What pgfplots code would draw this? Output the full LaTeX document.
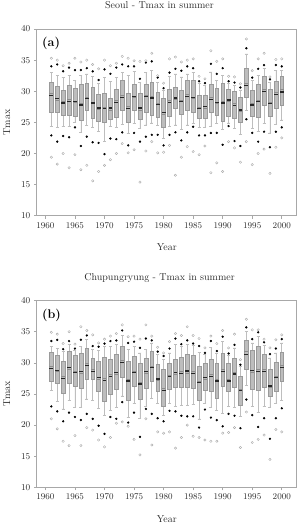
\documentclass[border=0pt]{standalone}
\usepackage{pgfplots}
\pgfplotsset{compat=1.18}
\usepackage{pgfplotstable}
\usepgfplotslibrary{statistics}

\definecolor{boxfill}{HTML}{BDBDBD}
\definecolor{boxedge}{HTML}{9A9A9A}
\definecolor{whisk}{HTML}{BEBEBE}
\definecolor{extreme}{HTML}{ABABAB}
\definecolor{framecol}{HTML}{A8A8A8}
\definecolor{labcol}{HTML}{2A2A2A}

% yr: year, lw/uw: whisker ends, q1/q3: quartiles, med: median,
% mean: mean, p5/p95: 5th and 95th percentiles, mn/mx: extremes
\pgfplotstableread{
yr   lw   q1   med  q3   uw   mean p5   p95  mn   mx
1961 24.3 26.6 29.6 31.5 33.0 29.3 22.9 34.0 19.4 35.3
1962 24.2 26.6 28.6 30.8 32.6 28.8 21.9 34.3 18.3 35.0
1963 24.4 26.1 28.4 30.1 32.2 28.1 22.8 33.2 20.0 34.1
1964 24.4 26.2 28.7 30.9 32.6 28.4 22.6 33.8 17.7 34.5
1965 25.0 26.0 28.2 30.5 31.8 28.4 24.2 33.4 19.8 35.3
1966 23.4 25.3 28.1 31.2 32.6 27.8 21.2 33.4 17.4 34.7
1967 24.5 26.9 29.1 31.3 32.8 28.8 22.7 33.7 18.1 35.0
1968 24.2 25.6 28.3 30.6 32.4 28.1 21.8 33.2 15.6 34.3
1969 23.6 25.2 27.1 29.5 31.2 27.3 21.7 31.8 17.1 33.6
1970 21.9 25.0 27.5 29.7 32.2 27.2 19.9 33.5 18.1 35.0
1971 24.3 25.5 27.0 28.8 31.6 27.3 22.4 32.8 19.0 34.1
1972 24.2 25.9 28.5 30.4 32.2 28.2 22.3 33.8 20.0 34.5
1973 24.7 27.0 29.3 31.7 33.0 29.0 23.4 34.3 21.6 35.6
1974 23.2 25.0 27.6 29.7 32.6 27.2 21.3 34.0 20.1 35.3
1975 24.8 26.9 29.0 31.2 33.2 29.2 23.3 34.0 20.6 34.9
1976 24.0 25.5 27.0 29.7 31.4 27.3 21.9 32.0 15.4 34.8
1977 24.6 26.6 29.4 31.2 33.0 29.1 22.7 34.6 20.4 34.9
1978 24.9 26.2 29.2 31.4 33.4 28.9 23.0 34.8 21.9 36.1
1979 24.5 25.8 28.1 29.8 31.4 27.9 23.0 32.2 20.1 32.5
1980 22.4 24.2 26.3 28.9 30.2 26.6 21.3 30.5 20.2 31.3
1981 24.3 26.0 28.5 30.3 32.4 28.2 23.0 33.0 21.3 35.2
1982 24.6 27.2 28.7 30.6 32.8 28.9 23.4 33.6 16.5 35.5
1983 23.9 26.3 28.6 30.1 32.3 28.3 22.1 33.3 19.4 34.7
1984 24.6 26.9 29.5 31.7 32.8 29.2 23.4 34.0 21.1 35.0
1985 24.8 26.6 28.8 31.8 33.0 29.0 24.3 33.7 20.3 35.2
1986 24.2 25.6 27.4 29.4 31.2 27.2 22.9 31.6 19.8 32.4
1987 24.2 25.6 27.3 29.3 30.9 27.5 22.9 31.3 21.2 32.0
1988 24.4 26.6 29.0 31.2 33.1 28.7 23.3 34.4 16.9 36.5
1989 24.8 26.2 28.0 30.5 31.7 28.2 23.3 32.8 18.5 34.8
1990 23.9 25.1 28.4 31.3 32.6 28.1 21.4 33.7 17.1 35.2
1991 24.9 26.0 28.4 30.3 31.2 28.6 24.4 31.6 21.9 32.4
1992 24.0 25.6 28.0 30.0 31.0 27.7 22.0 31.4 20.9 32.3
1993 23.1 25.0 26.8 29.0 30.2 27.0 21.2 30.6 18.6 31.2
1994 26.9 29.0 31.3 33.7 36.0 30.9 25.5 36.9 21.9 38.4
1995 24.0 26.0 28.1 30.1 31.8 27.8 23.3 32.2 18.2 33.3
1996 23.6 25.8 28.6 31.2 32.6 28.3 21.9 33.6 20.0 35.2
1997 24.8 27.7 30.3 32.4 33.7 30.0 23.5 34.2 20.7 36.1
1998 23.3 26.0 28.2 30.3 31.4 28.0 21.0 31.9 16.8 32.3
1999 24.7 27.2 29.8 31.6 33.4 29.5 23.5 34.2 21.0 35.1
2000 25.4 27.8 30.3 32.4 33.4 29.9 24.2 34.0 22.5 35.2
}\seoul

\pgfplotstableread{
yr   lw   q1   med  q3   uw   mean p5   p95  mn   mx
1961 25.6 27.0 29.4 31.7 32.6 29.1 23.0 33.5 21.0 34.9
1962 23.8 26.7 28.6 31.3 32.3 28.8 22.2 33.7 19.4 34.6
1963 22.6 25.1 27.9 30.2 31.8 27.5 20.6 32.2 17.4 33.1
1964 24.0 26.7 29.0 31.9 33.0 29.2 22.0 33.5 16.7 35.0
1965 22.8 26.3 28.7 31.3 32.0 28.4 21.3 32.3 18.3 33.0
1966 22.8 25.9 28.4 31.5 32.6 28.6 20.8 33.7 16.7 35.8
1967 24.2 27.4 29.9 32.3 33.8 29.6 21.8 34.4 19.6 35.2
1968 24.0 27.3 28.9 30.7 32.2 28.6 21.0 32.7 19.2 34.5
1969 22.7 25.5 27.4 30.3 32.0 27.6 19.9 32.6 17.6 33.2
1970 21.5 23.9 27.5 30.9 32.6 27.2 18.6 33.1 16.5 33.8
1971 22.3 24.9 28.1 30.6 32.6 27.8 21.3 33.5 18.0 34.3
1972 22.8 25.7 28.2 31.4 33.0 28.4 21.0 33.6 20.3 34.7
1973 24.7 27.7 30.4 32.7 34.4 30.1 23.7 35.2 20.5 36.1
1974 21.2 24.0 27.4 30.2 32.2 27.1 20.4 33.2 19.8 34.2
1975 23.5 26.3 28.7 31.0 32.6 28.4 22.0 33.4 17.7 34.3
1976 21.1 24.1 26.9 29.9 31.6 26.6 18.1 32.4 15.2 33.8
1977 23.0 25.9 28.3 30.7 32.2 28.6 22.6 33.9 21.0 36.1
1978 24.3 27.0 29.5 31.8 33.2 29.2 21.8 33.6 16.8 34.3
1979 23.5 25.5 27.2 29.7 31.4 27.4 21.1 31.8 18.9 32.5
1980 21.6 23.0 25.9 29.0 30.6 25.6 20.6 31.1 18.7 31.6
1981 23.5 25.8 28.0 29.9 31.6 27.8 22.3 32.3 18.9 33.4
1982 23.0 26.1 28.1 30.6 33.0 28.4 22.2 33.9 16.3 34.7
1983 23.2 26.1 28.6 30.9 32.6 28.3 21.5 33.0 18.0 34.4
1984 23.2 26.1 28.4 31.4 33.0 28.7 21.4 33.6 20.0 35.8
1985 23.3 25.9 28.6 31.3 32.8 28.3 21.4 33.1 18.2 34.4
1986 21.0 24.0 27.1 29.4 31.7 26.8 19.6 32.7 18.0 33.9
1987 23.5 25.6 27.4 29.9 31.3 27.6 22.5 31.6 17.6 32.4
1988 22.8 25.4 28.1 30.5 32.5 27.8 21.2 33.5 17.4 34.3
1989 22.4 24.3 27.4 30.0 31.6 27.1 20.8 31.9 17.4 33.1
1990 21.9 26.2 28.9 31.6 33.4 28.6 19.8 34.2 18.7 35.2
1991 23.0 25.4 27.4 30.0 31.2 27.1 21.8 31.5 18.8 32.4
1992 22.8 26.1 28.5 30.7 32.4 28.2 21.5 32.9 19.6 34.6
1993 21.4 23.2 25.8 27.9 29.4 25.5 19.5 29.7 16.4 30.5
1994 26.4 28.9 31.8 33.7 35.0 31.3 24.1 35.7 22.1 37.0
1995 23.0 25.8 28.5 32.0 33.2 28.8 21.6 33.8 17.2 35.3
1996 22.1 25.6 28.9 32.6 34.3 28.6 19.7 34.9 17.7 35.3
1997 23.0 26.1 28.9 31.4 32.8 28.6 21.1 33.3 18.4 33.8
1998 22.8 24.6 26.1 29.0 30.8 26.3 17.8 31.4 14.5 32.4
1999 23.5 25.4 27.9 30.1 31.6 27.7 21.1 32.3 19.3 33.7
2000 24.0 27.0 29.6 31.7 33.2 29.3 22.7 33.8 18.9 34.5
}\chupung

% one prepared, vertical box plot for each row of a table; x runs in years after 1960
\newcommand\yearboxes[1]{%
  \pgfplotsforeachungrouped \i in {0,1,...,39}{%
    \pgfplotstablegetelem{\i}{yr}\of#1\pgfmathtruncatemacro\vx{\pgfplotsretval-1960}%
    \pgfplotstablegetelem{\i}{lw}\of#1\let\vlw\pgfplotsretval
    \pgfplotstablegetelem{\i}{q1}\of#1\let\vqa\pgfplotsretval
    \pgfplotstablegetelem{\i}{med}\of#1\let\vmed\pgfplotsretval
    \pgfplotstablegetelem{\i}{q3}\of#1\let\vqc\pgfplotsretval
    \pgfplotstablegetelem{\i}{uw}\of#1\let\vuw\pgfplotsretval
    \edef\doplot{\noexpand\addplot+[boxplot prepared={draw direction=y,
        draw position=\vx,
        lower whisker=\vlw, lower quartile=\vqa, median=\vmed,
        upper quartile=\vqc, upper whisker=\vuw,
        box extend=0.64, whisker extend=0.5}, solid, mark=none,
        draw=boxedge, fill=boxfill] coordinates {};}%
    \doplot
  }%
}

\pgfplotsset{
  tmaxpanel/.style={
    scale only axis, width=260pt, height=186.7pt,
    xmin=-1.46, xmax=42.54, ymin=10, ymax=40,
    xtick={0,5,...,40},
    xticklabels={1960,1965,1970,1975,1980,1985,1990,1995,2000},
    ytick={10,15,...,40},
    xtick pos=lower, ytick pos=left, tick align=outside,
    major tick length=3pt,
    axis line style={framecol, line width=0.6pt},
    tick style={framecol, line width=0.6pt},
    ticklabel style={font=\fontsize{8.8}{10}\selectfont, text=labcol},
    label style={font=\fontsize{10}{12}\selectfont, text=labcol},
    xlabel={Year}, ylabel={Tmax},
    xlabel style={at={(axis description cs:0.5,0)}, anchor=base, yshift=-35pt},
    ylabel style={at={(axis description cs:-0.1155,0.5)}, anchor=center},
    title style={at={(axis description cs:0.472,1)}, anchor=base, yshift=14.5pt,
      font=\fontsize{10}{12}\selectfont, text=labcol},
    boxplot/every box/.style={draw=boxedge, fill=boxfill, line width=0.5pt},
    boxplot/every whisker/.style={draw=whisk, line width=0.6pt},
    boxplot/every median/.style={draw=black!45, line width=0.5pt},
  },
  meanline/.style={only marks, mark=-, mark size=1.9pt,
    mark options={draw=black!85, line width=1.3pt}},
  pctdot/.style={only marks, mark=*, mark size=0.95pt,
    mark options={draw=black, fill=black}},
  extremecirc/.style={only marks, mark=o, mark size=1.2pt,
    mark options={draw=extreme, line width=0.4pt}},
}

\begin{document}
\begin{tikzpicture}
\path[use as bounding box] (0,0) rectangle (302pt,-523pt);

% Seoul
\begin{axis}[tmaxpanel, at={(36.8pt,-215.7pt)}, anchor=south west,
  title={Seoul - Tmax in summer}]
\yearboxes{\seoul}
\addplot[meanline] table[x expr=\thisrow{yr}-1960, y=mean] {\seoul};
\addplot[pctdot] table[x expr=\thisrow{yr}-1960, y=p5] {\seoul};
\addplot[pctdot] table[x expr=\thisrow{yr}-1960, y=p95] {\seoul};
\addplot[extremecirc] table[x expr=\thisrow{yr}-1960, y=mn] {\seoul};
\addplot[extremecirc] table[x expr=\thisrow{yr}-1960, y=mx] {\seoul};
\node[anchor=north west, inner sep=0pt, font=\bfseries\fontsize{12.5}{14}\selectfont]
  at (rel axis cs:0.02,0.955) {(a)};
\end{axis}

% Chupungryung
\begin{axis}[tmaxpanel, at={(36.8pt,-487.3pt)}, anchor=south west,
  title={Chupungryung - Tmax in summer}]
\yearboxes{\chupung}
\addplot[meanline] table[x expr=\thisrow{yr}-1960, y=mean] {\chupung};
\addplot[pctdot] table[x expr=\thisrow{yr}-1960, y=p5] {\chupung};
\addplot[pctdot] table[x expr=\thisrow{yr}-1960, y=p95] {\chupung};
\addplot[extremecirc] table[x expr=\thisrow{yr}-1960, y=mn] {\chupung};
\addplot[extremecirc] table[x expr=\thisrow{yr}-1960, y=mx] {\chupung};
\node[anchor=north west, inner sep=0pt, font=\bfseries\fontsize{12.5}{14}\selectfont]
  at (rel axis cs:0.02,0.955) {(b)};
\end{axis}
\end{tikzpicture}
\end{document}
